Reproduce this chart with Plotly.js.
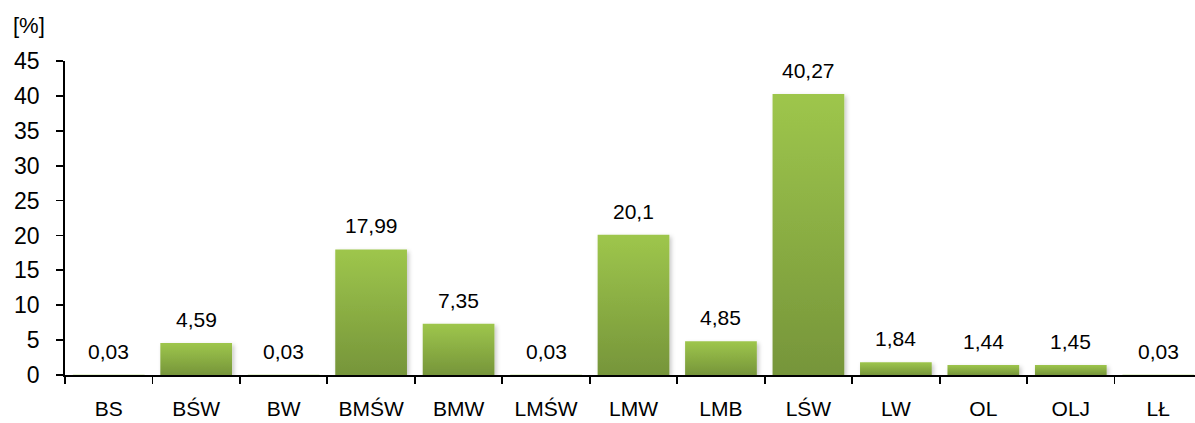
<!DOCTYPE html>
<html>
<head>
<meta charset="utf-8">
<script src="https://cdn.plot.ly/plotly-3.0.1.min.js"></script>
<style>
  html, body { margin: 0; padding: 0; background: #ffffff; }
  #chart { width: 1195px; height: 423px; }
</style>
</head>
<body>
<div id="chart"></div>
<script>
// Share of each category, in percent
const categories = ['BS', 'BŚW', 'BW', 'BMŚW', 'BMW', 'LMŚW', 'LMW', 'LMB', 'LŚW', 'LW', 'OL', 'OLJ', 'LŁ'];
const shares = [0.03, 4.59, 0.03, 17.99, 7.35, 0.03, 20.1, 4.85, 40.27, 1.84, 1.44, 1.45, 0.03];
const yTicks = [0, 5, 10, 15, 20, 25, 30, 35, 40, 45];

const FONT = 'Liberation Sans, Arial, Helvetica, sans-serif';

// Polish number formatting: decimal comma
const fmt = v => String(v).replace('.', ',');

const trace = {
  type: 'bar',
  x: categories,
  y: shares,
  marker: { color: '#8bb042', line: { width: 0 } },
  hoverinfo: 'x+y'
};

// value labels sit a little above each bar top
const valueLabels = categories.map((c, i) => ({
  x: c,
  y: shares[i],
  xref: 'x',
  yref: 'y',
  text: fmt(shares[i]),
  showarrow: false,
  yanchor: 'bottom',
  yshift: 10,
  font: { family: FONT, size: 21, color: '#000000' }
}));

const layout = {
  width: 1195,
  height: 423,
  margin: { l: 65, r: 0, t: 61, b: 48, pad: 0 },
  paper_bgcolor: '#ffffff',
  plot_bgcolor: '#ffffff',
  showlegend: false,
  bargap: 0.18,
  font: { family: FONT, color: '#000000' },
  xaxis: {
    type: 'category',
    range: [-0.5, 12.42],
    showgrid: false,
    zeroline: false,
    showline: true,
    linecolor: '#000000',
    linewidth: 1.8,
    ticks: 'outside',
    tickson: 'boundaries',
    ticklen: 7,
    tickwidth: 1.8,
    tickcolor: '#000000',
    ticklabelstandoff: 14,
    tickfont: { family: FONT, size: 21, color: '#000000' }
  },
  yaxis: {
    range: [0, 45],
    tickmode: 'array',
    tickvals: yTicks,
    ticktext: yTicks.map(String),
    showgrid: false,
    zeroline: false,
    showline: true,
    linecolor: '#000000',
    linewidth: 1.8,
    ticks: 'outside',
    ticklen: 7,
    tickwidth: 1.8,
    tickcolor: '#000000',
    ticklabelstandoff: 12,
    tickfont: { family: FONT, size: 23, color: '#000000' }
  },
  annotations: valueLabels.concat([{
    text: '[%]',
    xref: 'paper',
    yref: 'paper',
    x: -0.0319,
    y: 1.114,
    xanchor: 'center',
    yanchor: 'middle',
    showarrow: false,
    font: { family: FONT, size: 22, color: '#000000' }
  }])
};

Plotly.newPlot('chart', [trace], layout, { displayModeBar: false, staticPlot: true }).then(gd => {
  // vertical green gradient and a soft shadow for the bars
  const svgNS = 'http://www.w3.org/2000/svg';
  const svg = gd.querySelector('svg.main-svg');
  let defs = svg.querySelector('defs');
  if (!defs) { defs = document.createElementNS(svgNS, 'defs'); svg.insertBefore(defs, svg.firstChild); }

  const grad = document.createElementNS(svgNS, 'linearGradient');
  grad.setAttribute('id', 'barGreen');
  grad.setAttribute('x1', '0'); grad.setAttribute('y1', '0');
  grad.setAttribute('x2', '0'); grad.setAttribute('y2', '1');
  [['0', '#9ec64c'], ['1', '#76953a']].forEach(([o, c]) => {
    const s = document.createElementNS(svgNS, 'stop');
    s.setAttribute('offset', o);
    s.setAttribute('stop-color', c);
    grad.appendChild(s);
  });
  defs.appendChild(grad);

  const filt = document.createElementNS(svgNS, 'filter');
  filt.setAttribute('id', 'barShadow');
  filt.setAttribute('x', '-10%'); filt.setAttribute('y', '-10%');
  filt.setAttribute('width', '130%'); filt.setAttribute('height', '130%');
  const ds = document.createElementNS(svgNS, 'feDropShadow');
  ds.setAttribute('dx', '2'); ds.setAttribute('dy', '2');
  ds.setAttribute('stdDeviation', '2');
  ds.setAttribute('flood-color', '#000000');
  ds.setAttribute('flood-opacity', '0.22');
  filt.appendChild(ds);
  defs.appendChild(filt);

  gd.querySelectorAll('.barlayer .point path').forEach(p => {
    p.style.fill = 'url(#barGreen)';
    p.setAttribute('filter', 'url(#barShadow)');
  });
});
</script>
</body>
</html>
